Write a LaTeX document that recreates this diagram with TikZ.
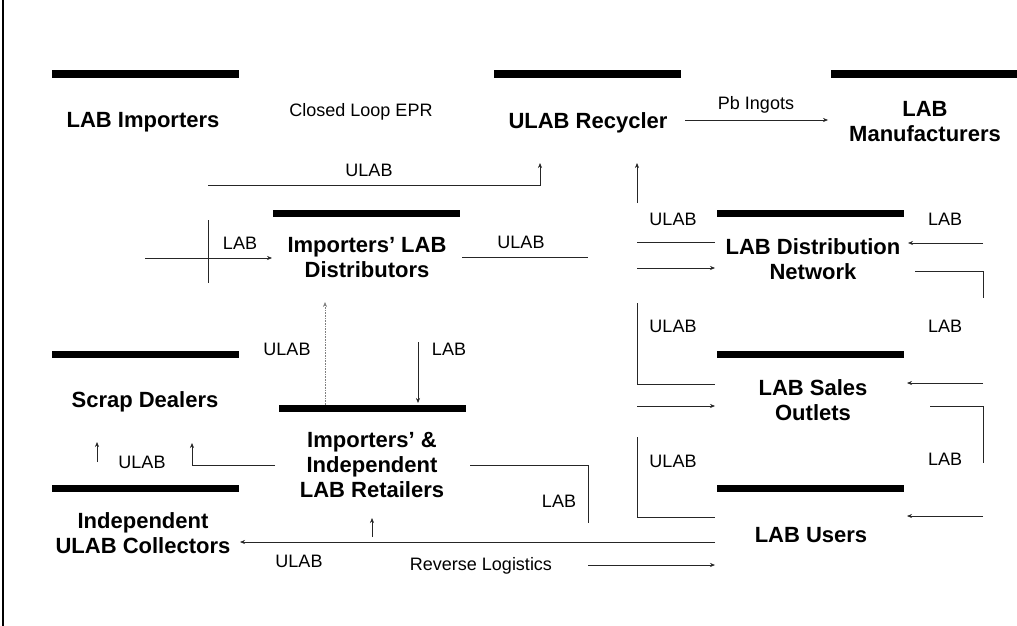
\documentclass[tikz,border=0pt]{standalone}
\usepackage{fontspec}
\setmainfont{Liberation Sans}
\usetikzlibrary{arrows.meta}

\tikzset{
  bar/.style={line width=7pt},
  actor/.style={font=\bfseries\fontsize{22}{25}\selectfont, align=center, anchor=base, inner sep=0pt},
  flowlabel/.style={font=\fontsize{18}{21}\selectfont, anchor=base, inner sep=0pt},
  link/.style={line width=0.6pt, black!85},
  >={Stealth[length=5pt,width=4pt]},
}

\begin{document}
\begin{tikzpicture}[x=1pt,y=-1pt]
\useasboundingbox (0,0) rectangle (1017,626);

% margin rule of the page
\draw[line width=1.5pt] (3,0) -- (3,626);

% bar above each actor
\foreach \x/\y in {52/74, 494/74, 831/74, 273/213, 717/213, 52/354, 279/408, 717/354, 52/488, 717/488} {
    \draw[bar] (\x,\y) -- ++(187,0);
}

% base is the last line of each name
\node[actor] (imp) at (143,127) {LAB Importers};
\node[actor] (rec) at (588,128) {ULAB Recycler};
\node[actor] (man) at (925,141) {LAB\\Manufacturers};
\node[actor] (dist) at (367,277) {Importers' LAB\\Distributors};
\node[actor] (net) at (813,279) {LAB Distribution\\Network};
\node[actor] (scrap) at (145,407) {Scrap Dealers};
\node[actor] (ret) at (372,497) {Importers' \&\\Independent\\LAB Retailers};
\node[actor] (out) at (813,420) {LAB Sales\\Outlets};
\node[actor] (col) at (143,553) {Independent\\ULAB Collectors};
\node[actor] (usr) at (811,542) {LAB Users};

\node[flowlabel] (epr) at (361,116) {Closed Loop EPR};
\node[flowlabel] (pb) at (756,109) {Pb Ingots};
\node[flowlabel] (rl) at (481,570) {Reverse Logistics};

\node[flowlabel] (ul1) at (369,176) {ULAB};
\node[flowlabel] (ul2) at (521,248) {ULAB};
\node[flowlabel] (ul3) at (673,225) {ULAB};
\node[flowlabel] (ul4) at (673,332) {ULAB};
\node[flowlabel] (ul5) at (673,467) {ULAB};
\node[flowlabel] (ul6) at (287,355) {ULAB};
\node[flowlabel] (ul7) at (142,468) {ULAB};
\node[flowlabel] (ul8) at (299,567) {ULAB};

\node[flowlabel] (lb1) at (240,249) {LAB};
\node[flowlabel] (lb2) at (945,225) {LAB};
\node[flowlabel] (lb3) at (945,332) {LAB};
\node[flowlabel] (lb4) at (945,465) {LAB};
\node[flowlabel] (lb5) at (449,355) {LAB};
\node[flowlabel] (lb6) at (559,507) {LAB};

% flows into the recycler
\coordinate (epr-in) at (540,163);
\coordinate (rec-in) at (637,163);
\draw[link,->] (208,185) -| (epr-in);
\draw[link,->] (637,203) -- (rec-in);
\draw[link,->] (685,120) -- (828,120);

% importers side
\coordinate (dist-in) at (272,258);
\draw[link,->] (145,258) -- (dist-in);
\draw[link] (208,220) -- (208,283);
\draw[link] (462,257) -- (588,257);
\draw[link,densely dotted,black!50,->] (325,405) -- (325,302);
\draw[link,->] (418,342) -- (418,403);

% left column
\draw[link,->] (97,462) -- (97,442);
\draw[link,->] (275,465) -| (192,443);
\draw[link,->] (715,542) -- (240,542);
\draw[link,->] (372,537) -- (372,518);
\draw[link] (470,465) -| (588,523);
\draw[link,->] (588,565) -- (715,565);

% right column, left side
\draw[link] (637,242) -- (715,242);
\draw[link,->] (637,268) -- (715,268);
\draw[link] (637,303) |- (715,384);
\draw[link,->] (637,406) -- (715,406);
\draw[link] (637,437) |- (715,517);

% right column, right side
\draw[link,->] (983,243) -- (908,243);
\draw[link] (915,271) -| (983,298);
\draw[link,->] (983,383) -- (907,383);
\draw[link] (930,406) -| (983,463);
\draw[link,->] (983,516) -- (907,516);
\end{tikzpicture}
\end{document}
